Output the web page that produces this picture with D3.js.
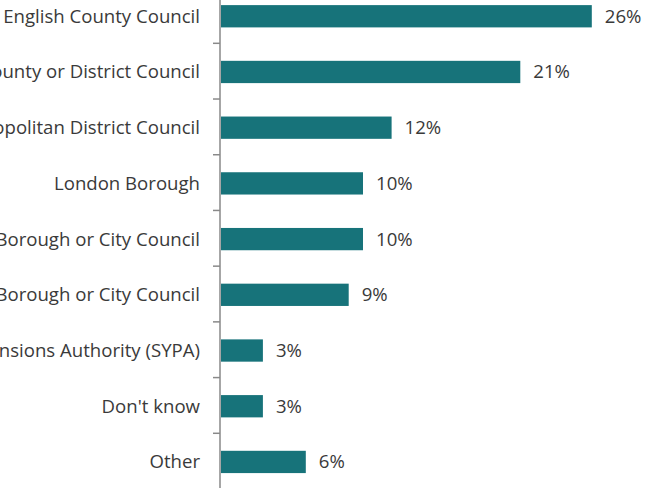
<!DOCTYPE html>
<html>
<head>
<meta charset="utf-8">
<script src="https://cdn.jsdelivr.net/npm/d3@7"></script>
<style>
  html, body { margin: 0; padding: 0; background: #fff; }
  svg { display: block; }
</style>
</head>
<body>
<div id="chart"></div>
<script>
// Administering authority type, share of respondents
const categories = [
  "English County Council",
  "Welsh County or District Council",
  "Metropolitan District Council",
  "London Borough",
  "Scottish Borough or City Council",
  "English Borough or City Council",
  "South Yorkshire Pensions Authority (SYPA)",
  "Don't know",
  "Other"
];
const shares = [26, 21, 12, 10, 10, 9, 3, 3, 6];
const valueLabels = ["26%", "21%", "12%", "10%", "10%", "9%", "3%", "3%", "6%"];

const width = 649, height = 488;
const axisX = 220;
const fontFamily = "'Open Sans', 'Noto Sans', sans-serif";
const fontSize = 18.6;
const textColor = "#3a3a3a";
const barColor = "#17737A";

const svg = d3.select("#chart").append("svg")
  .attr("width", width)
  .attr("height", height);

const x = d3.scaleLinear().domain([0, 26]).range([axisX, axisX + 26 * 14.3]);

const y = d3.scaleBand()
  .domain(categories)
  .range([-12.4, 489])
  .paddingInner(0)
  .paddingOuter(0);

const barH = y.bandwidth() * 0.4;

const rows = categories.map((c, i) => ({ cat: c, v: shares[i], lbl: valueLabels[i] }));

// bars
svg.append("g").selectAll("rect")
  .data(rows)
  .join("rect")
  .attr("x", x(0) + 1)
  .attr("y", d => y(d.cat) + y.bandwidth() / 2 - barH / 2 + 0.8)
  .attr("width", d => x(d.v) - x(0) - 1)
  .attr("height", barH)
  .attr("fill", barColor);

// category axis with ticks between the bands
const axisG = svg.append("g");
axisG.append("line")
  .attr("x1", axisX).attr("x2", axisX)
  .attr("y1", 0).attr("y2", height)
  .attr("stroke", "#898989")
  .attr("stroke-width", 1.5);

const boundaries = categories.slice(1).map(c => y(c));
axisG.selectAll("line.tick")
  .data(boundaries)
  .join("line")
  .attr("class", "tick")
  .attr("x1", axisX - 7).attr("x2", axisX)
  .attr("y1", d => d).attr("y2", d => d)
  .attr("stroke", "#898989")
  .attr("stroke-width", 1.5);

// category labels
svg.append("g").selectAll("text")
  .data(rows)
  .join("text")
  .attr("x", axisX - 20)
  .attr("y", d => y(d.cat) + y.bandwidth() / 2 + 0.8)
  .attr("dy", "0.35em")
  .attr("text-anchor", "end")
  .attr("font-family", fontFamily)
  .attr("font-size", fontSize)
  .attr("fill", textColor)
  .text(d => d.cat);

// value labels
svg.append("g").selectAll("text")
  .data(rows)
  .join("text")
  .attr("x", d => x(d.v) + 13)
  .attr("y", d => y(d.cat) + y.bandwidth() / 2 + 0.8)
  .attr("dy", "0.35em")
  .attr("font-family", fontFamily)
  .attr("font-size", fontSize)
  .attr("fill", textColor)
  .text(d => d.lbl);
</script>
</body>
</html>
